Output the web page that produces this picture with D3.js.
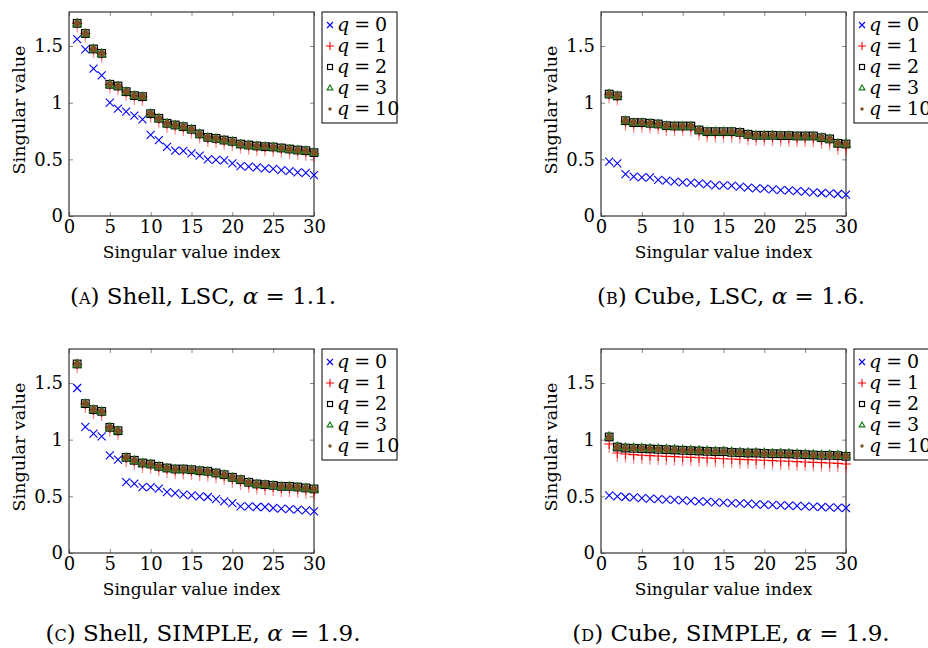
<!DOCTYPE html>
<html><head><meta charset="utf-8">
<script src="https://cdn.jsdelivr.net/npm/d3@7"></script>
<style>
body{margin:0;background:#fff}
svg{display:block}
text{font-family:"DejaVu Serif",serif;fill:#000}
</style>
</head><body>
<svg id="chart" width="928" height="648"></svg>
<script>
// ---------- data ----------
const indices = [1,2,3,4,5,6,7,8,9,10,11,12,13,14,15,16,17,18,19,20,21,22,23,24,25,26,27,28,29,30];
const xTicks = [0,5,10,15,20,25,30];
const yTicks = [0,0.5,1,1.5];
const yTickLabels = ["0","0.5","1","1.5"];
const qLabels = ["0","1","2","3","10"];

// (A) Shell, LSC
const shellLSC_q0 = [1.56,1.47,1.30,1.24,1.00,0.947,0.92,0.885,0.853,0.715,0.67,0.61,0.576,0.575,0.553,0.532,0.50,0.495,0.49,0.465,0.44,0.435,0.43,0.42,0.415,0.405,0.395,0.385,0.38,0.36];
const shellLSC_q1 = [1.70,1.61,1.472,1.432,1.160,1.145,1.094,1.058,1.050,0.900,0.858,0.814,0.799,0.783,0.760,0.719,0.688,0.679,0.664,0.653,0.629,0.620,0.612,0.606,0.602,0.593,0.584,0.575,0.568,0.552];
const shellLSC_q2 = [1.70,1.61,1.474,1.435,1.162,1.147,1.097,1.062,1.053,0.903,0.862,0.818,0.803,0.788,0.765,0.724,0.694,0.685,0.670,0.659,0.635,0.626,0.618,0.612,0.609,0.600,0.591,0.582,0.576,0.559];
const shellLSC_q3 = [1.70,1.61,1.474,1.435,1.162,1.147,1.097,1.062,1.053,0.903,0.862,0.818,0.803,0.788,0.765,0.724,0.694,0.685,0.670,0.659,0.635,0.626,0.618,0.612,0.609,0.600,0.591,0.582,0.576,0.559];
const shellLSC_q10 = [1.70,1.61,1.474,1.435,1.162,1.147,1.097,1.062,1.053,0.903,0.862,0.818,0.803,0.788,0.765,0.724,0.694,0.685,0.670,0.659,0.635,0.626,0.618,0.612,0.609,0.600,0.591,0.582,0.576,0.559];

// (B) Cube, LSC
const cubeLSC_q0 = [0.479,0.465,0.37,0.347,0.34,0.34,0.318,0.312,0.303,0.297,0.294,0.288,0.28,0.27,0.27,0.268,0.259,0.25,0.244,0.241,0.235,0.229,0.226,0.22,0.215,0.209,0.203,0.20,0.194,0.188];
const cubeLSC_q1 = [1.071,1.055,0.832,0.814,0.813,0.807,0.801,0.786,0.782,0.782,0.781,0.745,0.730,0.729,0.729,0.728,0.722,0.705,0.696,0.695,0.695,0.692,0.691,0.688,0.688,0.687,0.671,0.659,0.618,0.610];
const cubeLSC_q2 = [1.076,1.060,0.841,0.824,0.824,0.818,0.812,0.797,0.794,0.794,0.794,0.759,0.744,0.744,0.744,0.744,0.738,0.721,0.712,0.712,0.712,0.709,0.709,0.706,0.706,0.706,0.691,0.680,0.641,0.635];
const cubeLSC_q3 = [1.076,1.060,0.841,0.824,0.824,0.818,0.812,0.797,0.794,0.794,0.794,0.759,0.744,0.744,0.744,0.744,0.738,0.721,0.712,0.712,0.712,0.709,0.709,0.706,0.706,0.706,0.691,0.680,0.641,0.635];
const cubeLSC_q10 = [1.076,1.060,0.841,0.824,0.824,0.818,0.812,0.797,0.794,0.794,0.794,0.759,0.744,0.744,0.744,0.744,0.738,0.721,0.712,0.712,0.712,0.709,0.709,0.706,0.706,0.706,0.691,0.680,0.641,0.635];

// (C) Shell, SIMPLE
const shellSIMPLE_q0 = [1.456,1.112,1.053,1.029,0.862,0.824,0.626,0.612,0.582,0.582,0.568,0.538,0.529,0.515,0.509,0.50,0.494,0.476,0.456,0.441,0.412,0.412,0.406,0.406,0.397,0.391,0.388,0.382,0.376,0.368];
const shellSIMPLE_q1 = [1.665,1.315,1.261,1.245,1.105,1.074,0.838,0.811,0.786,0.777,0.756,0.741,0.731,0.730,0.724,0.714,0.709,0.694,0.679,0.656,0.634,0.610,0.595,0.588,0.582,0.573,0.572,0.566,0.558,0.546];
const shellSIMPLE_q2 = [1.668,1.318,1.265,1.250,1.109,1.079,0.844,0.818,0.794,0.785,0.765,0.750,0.741,0.741,0.735,0.726,0.721,0.706,0.691,0.668,0.647,0.624,0.609,0.603,0.597,0.588,0.588,0.582,0.574,0.565];
const shellSIMPLE_q3 = [1.668,1.318,1.265,1.250,1.109,1.079,0.844,0.818,0.794,0.785,0.765,0.750,0.741,0.741,0.735,0.726,0.721,0.706,0.691,0.668,0.647,0.624,0.609,0.603,0.597,0.588,0.588,0.582,0.574,0.565];
const shellSIMPLE_q10 = [1.668,1.318,1.265,1.250,1.109,1.079,0.844,0.818,0.794,0.785,0.765,0.750,0.741,0.741,0.735,0.726,0.721,0.706,0.691,0.668,0.647,0.624,0.609,0.603,0.597,0.588,0.588,0.582,0.574,0.565];

// (D) Cube, SIMPLE
const cubeSIMPLE_q0 = [0.509,0.50,0.494,0.491,0.485,0.479,0.476,0.471,0.468,0.465,0.459,0.456,0.453,0.447,0.444,0.441,0.438,0.435,0.429,0.426,0.424,0.421,0.418,0.415,0.412,0.409,0.406,0.403,0.40,0.397];
const cubeSIMPLE_q1 = [0.962,0.882,0.874,0.868,0.862,0.859,0.856,0.853,0.85,0.847,0.844,0.841,0.838,0.835,0.832,0.829,0.826,0.824,0.821,0.818,0.815,0.812,0.809,0.806,0.803,0.80,0.797,0.794,0.791,0.785];
const cubeSIMPLE_q2 = [1.024,0.935,0.926,0.924,0.921,0.918,0.915,0.912,0.909,0.906,0.903,0.90,0.897,0.894,0.894,0.888,0.885,0.882,0.882,0.879,0.876,0.876,0.874,0.871,0.868,0.865,0.862,0.862,0.859,0.853];
const cubeSIMPLE_q3 = [1.030,0.941,0.932,0.930,0.927,0.924,0.921,0.918,0.915,0.912,0.909,0.906,0.903,0.900,0.900,0.894,0.891,0.888,0.888,0.885,0.882,0.882,0.880,0.877,0.874,0.871,0.868,0.868,0.865,0.859];
const cubeSIMPLE_q10 = [1.024,0.935,0.926,0.924,0.921,0.918,0.915,0.912,0.909,0.906,0.903,0.90,0.897,0.894,0.894,0.888,0.885,0.882,0.882,0.879,0.876,0.876,0.874,0.871,0.868,0.865,0.862,0.862,0.859,0.853];

// ---------- layout ----------
const panels = [
  {left:69, top:12, series:[shellLSC_q0,shellLSC_q1,shellLSC_q2,shellLSC_q3,shellLSC_q10], letter:"a", text:") Shell, LSC, ", alpha:" = 1.1.", cx:203, cy:304},
  {left:601, top:12, series:[cubeLSC_q0,cubeLSC_q1,cubeLSC_q2,cubeLSC_q3,cubeLSC_q10], letter:"b", text:") Cube, LSC, ", alpha:" = 1.6.", cx:731, cy:304},
  {left:69, top:349, series:[shellSIMPLE_q0,shellSIMPLE_q1,shellSIMPLE_q2,shellSIMPLE_q3,shellSIMPLE_q10], letter:"c", text:") Shell, SIMPLE, ", alpha:" = 1.9.", cx:203, cy:641},
  {left:601, top:349, series:[cubeSIMPLE_q0,cubeSIMPLE_q1,cubeSIMPLE_q2,cubeSIMPLE_q3,cubeSIMPLE_q10], letter:"d", text:") Cube, SIMPLE, ", alpha:" = 1.9.", cx:731, cy:641}
];
const W = 245, H = 204;
const types = ["cross","plus","square","triangle","dot"];
const FONT = "'DejaVu Serif',serif";

function drawMarker(g, type, cx, cy, legend){
  if(type==="cross"){
    const s=legend?3:4;
    g.append("path").attr("d",`M${cx-s},${cy-s}L${cx+s},${cy+s}M${cx-s},${cy+s}L${cx+s},${cy-s}`)
      .attr("stroke","#0000ff").attr("stroke-width",1.1).attr("fill","none");
  } else if(type==="plus"){
    const s=legend?4:5;
    if(!legend){
      g.append("path").attr("d",`M${cx},${cy}L${cx},${cy+9}`)
        .attr("stroke","rgba(255,0,0,0.45)").attr("stroke-width",1.3);
    }
    g.append("path").attr("d",`M${cx-s},${cy}L${cx+s},${cy}M${cx},${cy-s}L${cx},${cy+s}`)
      .attr("stroke","#ff0000").attr("stroke-width",1.1).attr("fill","none");
  } else if(type==="square"){
    const s=legend?2.5:3.8;
    g.append("rect").attr("x",cx-s).attr("y",cy-s).attr("width",2*s).attr("height",2*s)
      .attr("fill","none").attr("stroke","#000").attr("stroke-width",1.2);
  } else if(type==="triangle"){
    const s=legend?3:4.4;
    g.append("path").attr("d",`M${cx},${cy-s}L${cx+s*0.95},${cy+s*0.65}L${cx-s*0.95},${cy+s*0.65}Z`)
      .attr("fill","none").attr("stroke","#1a7a1a").attr("stroke-width",1.2);
  } else {
    g.append("circle").attr("cx",cx).attr("cy",cy).attr("r",legend?1.7:3.3)
      .attr("fill","#7d4f26").attr("stroke","none");
  }
}

const svg = d3.select("#chart");

panels.forEach(p=>{
  const x = d3.scaleLinear().domain([0,30]).range([p.left, p.left+W]);
  const y = d3.scaleLinear().domain([0,1.8]).range([p.top+H, p.top]);
  const g = svg.append("g");

  const tickCol = "#888";
  const ax = [
    {a:d3.axisBottom(x).tickValues(xTicks).tickSize(-4).tickPadding(4).tickFormat(d3.format("d")), t:`translate(0,${p.top+H})`},
    {a:d3.axisTop(x).tickValues(xTicks).tickSize(-4).tickFormat(""), t:`translate(0,${p.top})`},
    {a:d3.axisLeft(y).tickValues(yTicks).tickSize(-4).tickPadding(6).tickFormat((d,i)=>yTickLabels[i]), t:`translate(${p.left},0)`},
    {a:d3.axisRight(y).tickValues(yTicks).tickSize(-4).tickFormat(""), t:`translate(${p.left+W},0)`}
  ];
  ax.forEach(o=>{
    const ag = g.append("g").attr("transform",o.t).call(o.a);
    ag.select(".domain").remove();
    ag.selectAll(".tick line").attr("stroke",tickCol).attr("stroke-width",1);
    ag.selectAll(".tick text").attr("font-family",FONT).attr("font-size",18).attr("fill","#000");
  });

  g.append("rect").attr("x",p.left).attr("y",p.top).attr("width",W).attr("height",H)
    .attr("fill","none").attr("stroke","#222").attr("stroke-width",1.1);

  p.series.forEach((vals,si)=>{
    const mg = g.append("g");
    vals.forEach((v,i)=> drawMarker(mg, types[si], x(indices[i]), y(v), false));
  });

  g.append("text").attr("x",p.left+W/2).attr("y",p.top+H+42).attr("text-anchor","middle")
    .attr("font-size",17).text("Singular value index");
  g.append("text").attr("transform",`translate(${p.left-44},${p.top+H/2-4}) rotate(-90)`)
    .attr("text-anchor","middle").attr("font-size",17.5).text("Singular value");

  const lx = p.left+W+8, ly = p.top;
  g.append("rect").attr("x",lx).attr("y",ly).attr("width",75).attr("height",111)
    .attr("fill","#fff").attr("stroke","#000").attr("stroke-width",1);
  qLabels.forEach((q,i)=>{
    const cy = ly+13+21*i;
    drawMarker(g, types[i], lx+8, cy, true);
    const t = g.append("text").attr("x",lx+15).attr("y",cy+6).attr("font-size",19);
    t.append("tspan").attr("font-style","italic").text("q");
    t.append("tspan").attr("dx",5).text("=");
    t.append("tspan").attr("dx",5).text(q);
  });

  const c = svg.append("text").attr("x",p.cx).attr("y",p.cy).attr("text-anchor","middle").attr("font-size",23);
  c.append("tspan").text("(");
  c.append("tspan").style("font-variant","small-caps").text(p.letter);
  c.append("tspan").text(p.text);
  c.append("tspan").attr("font-style","italic").text("α");
  c.append("tspan").text(p.alpha);
});
</script>
</body></html>
